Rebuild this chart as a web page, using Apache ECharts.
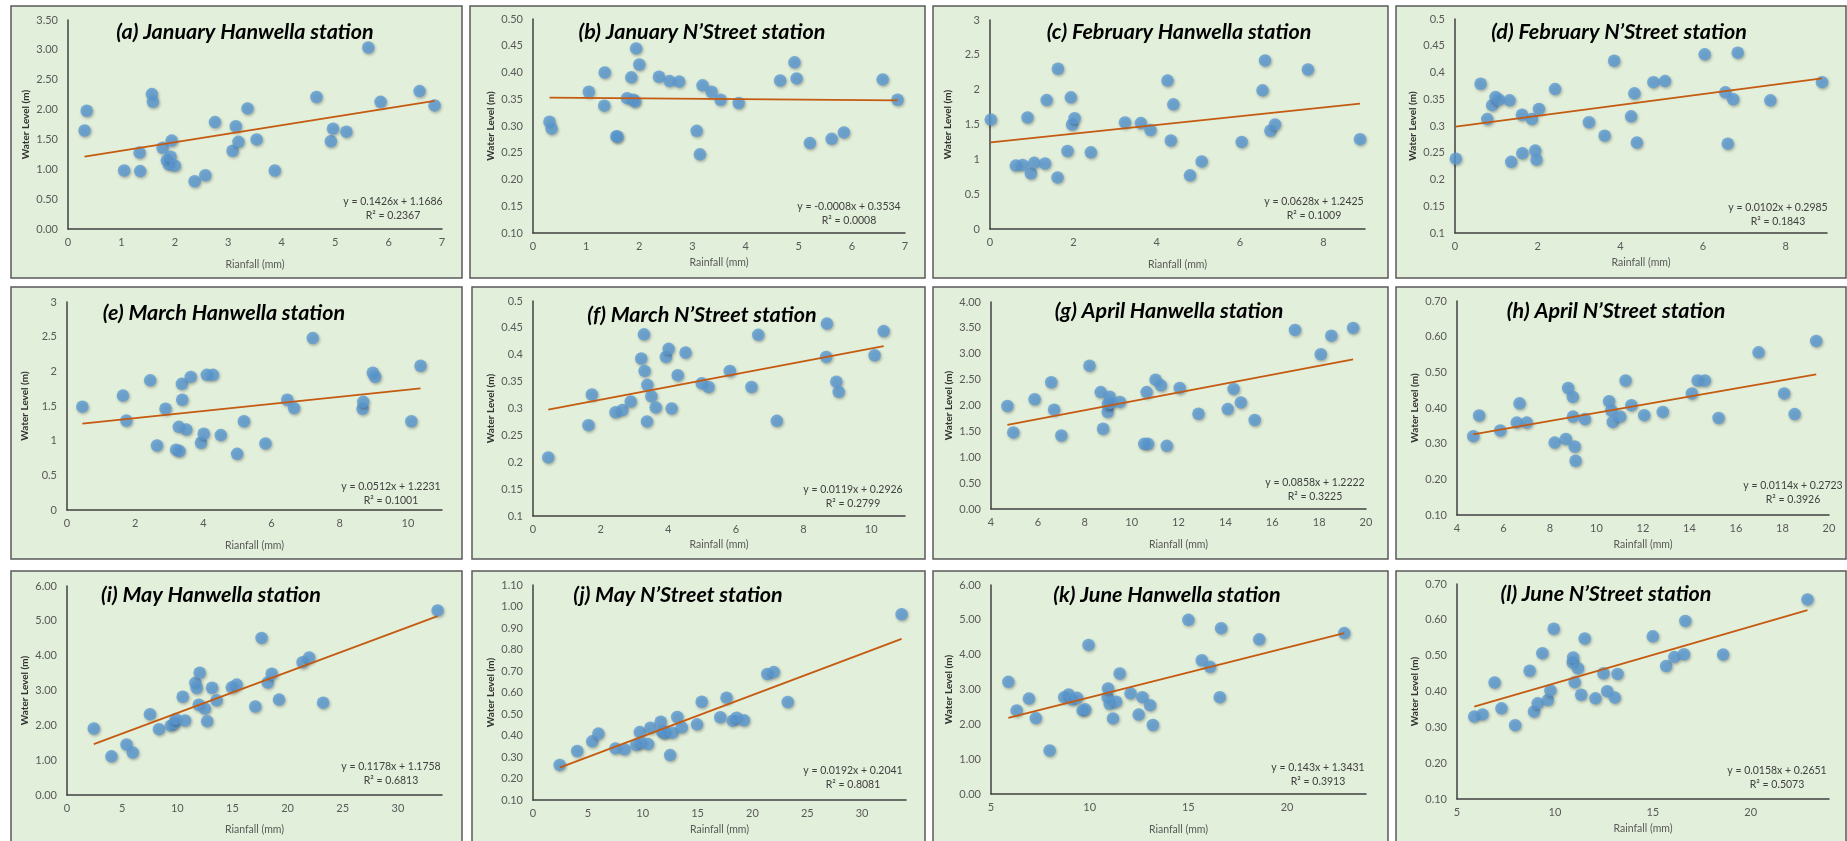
<!DOCTYPE html>
<html><head><meta charset="utf-8">
<script src="https://cdn.jsdelivr.net/npm/echarts@6/dist/echarts.min.js"></script>
<style>html,body{margin:0;padding:0;background:#fff}#c{width:1847px;height:841px}</style>
</head><body><div id="c"></div>
<script>
// ---------- DATA ----------
const janX = [0.31,0.35,1.05,1.34,1.35,1.57,1.59,1.77,1.85,1.89,1.92,1.94,2.00,2.37,2.57,2.75,3.08,3.14,3.19,3.36,3.53,3.87,4.65,4.92,4.96,5.21,5.62,5.85,6.58,6.86];
const janHanwella = [1.65,1.98,0.98,1.28,0.97,2.26,2.13,1.36,1.15,1.08,1.21,1.48,1.06,0.80,0.90,1.79,1.31,1.72,1.46,2.02,1.50,0.98,2.21,1.47,1.68,1.63,3.04,2.13,2.31,2.07];
const janNStreet = [0.308,0.295,0.364,0.338,0.400,0.281,0.280,0.352,0.391,0.349,0.346,0.445,0.415,0.392,0.384,0.383,0.291,0.247,0.376,0.364,0.349,0.343,0.385,0.419,0.389,0.268,0.276,0.288,0.387,0.349];

const febX = [0.02,0.62,0.78,0.90,0.98,1.06,1.32,1.36,1.62,1.63,1.86,1.94,1.97,2.03,2.42,3.24,3.62,3.85,4.26,4.34,4.40,4.80,5.08,6.04,6.54,6.60,6.73,6.84,7.63,8.88];
const febHanwella = [1.57,0.91,0.92,1.60,0.80,0.95,0.94,1.85,0.74,2.30,1.12,1.89,1.50,1.59,1.10,1.53,1.52,1.42,2.13,1.27,1.79,0.77,0.97,1.25,1.99,2.42,1.41,1.50,2.29,1.29];
const febNStreet = [0.239,0.379,0.313,0.339,0.354,0.349,0.348,0.233,0.321,0.249,0.313,0.254,0.237,0.332,0.369,0.307,0.282,0.422,0.318,0.361,0.269,0.382,0.384,0.434,0.363,0.267,0.350,0.437,0.348,0.382];

const marX = [0.45,1.64,1.74,2.44,2.64,2.89,3.20,3.28,3.30,3.37,3.38,3.50,3.63,3.93,4.01,4.10,4.28,4.51,4.99,5.19,5.82,6.46,6.66,7.21,8.67,8.69,8.97,9.04,10.10,10.37];
const marHanwella = [1.49,1.65,1.29,1.87,0.93,1.46,0.87,1.20,0.85,1.82,1.59,1.16,1.92,0.97,1.10,1.95,1.95,1.08,0.81,1.28,0.96,1.59,1.47,2.48,1.46,1.56,1.98,1.92,1.28,2.08];
const marNStreet = [0.209,0.269,0.326,0.293,0.297,0.313,0.393,0.438,0.370,0.276,0.344,0.323,0.302,0.396,0.411,0.300,0.362,0.404,0.347,0.340,0.370,0.340,0.437,0.277,0.396,0.458,0.350,0.331,0.399,0.444];

const aprX = [4.70,4.95,5.86,6.57,6.69,7.00,8.20,8.68,8.78,8.98,8.99,9.06,9.10,9.50,10.54,10.64,10.70,11.02,11.25,11.50,12.05,12.85,14.10,14.35,14.66,15.25,16.97,18.07,18.52,19.45];
const aprHanwella = [1.99,1.48,2.12,2.45,1.92,1.42,2.77,2.26,1.55,1.88,2.03,2.17,2.05,2.07,1.26,2.26,1.26,2.50,2.39,1.22,2.34,1.84,1.93,2.32,2.06,1.72,3.46,2.99,3.35,3.50];
const aprNStreet = [0.321,0.379,0.337,0.359,0.413,0.359,0.303,0.313,0.456,0.431,0.376,0.292,0.252,0.369,0.419,0.393,0.361,0.376,0.477,0.408,0.380,0.389,0.441,0.477,0.477,0.372,0.556,0.441,0.383,0.588];

const mayX = [2.43,4.03,5.40,5.96,7.52,8.34,9.41,9.73,9.85,10.49,10.70,11.64,11.76,11.95,12.03,12.50,12.71,13.15,13.56,14.95,15.38,17.07,17.64,18.20,18.56,19.22,21.36,21.95,23.22,33.60];
const mayHanwella = [1.91,1.11,1.45,1.22,2.32,1.89,1.99,2.06,2.18,2.82,2.14,3.22,3.07,2.59,3.51,2.48,2.12,3.08,2.72,3.09,3.17,2.54,4.51,3.23,3.48,2.74,3.81,3.95,2.65,5.30];
const mayNStreet = [0.263,0.328,0.373,0.409,0.340,0.336,0.356,0.416,0.367,0.360,0.436,0.464,0.418,0.420,0.412,0.309,0.413,0.486,0.438,0.452,0.557,0.485,0.576,0.469,0.483,0.471,0.686,0.695,0.556,0.964];

const junX = [5.88,6.30,6.92,7.27,7.97,8.71,8.93,9.12,9.36,9.64,9.77,9.94,10.91,10.93,11.01,11.18,11.34,11.52,12.07,12.48,12.67,13.06,13.20,15.00,15.68,16.10,16.59,16.66,18.59,22.90];
const junHanwella = [3.22,2.40,2.74,2.18,1.25,2.78,2.86,2.71,2.76,2.40,2.43,4.28,2.78,3.03,2.59,2.17,2.65,3.46,2.89,2.28,2.78,2.55,1.98,5.00,3.84,3.65,2.78,4.76,4.44,4.62];
const junNStreet = [0.330,0.336,0.425,0.353,0.306,0.458,0.344,0.367,0.507,0.376,0.403,0.575,0.481,0.495,0.426,0.465,0.391,0.548,0.381,0.451,0.401,0.383,0.449,0.554,0.471,0.496,0.504,0.597,0.503,0.657];

const titles = ['(a) January Hanwella station','(b) January N\u2019Street station','(c) February Hanwella station','(d) February N\u2019Street station',
  '(e) March Hanwella station','(f) March N\u2019Street station','(g) April Hanwella station','(h) April N\u2019Street station',
  '(i) May Hanwella station','(j) May N\u2019Street station','(k) June Hanwella station','(l) June N\u2019Street station'];
const xNames = ['Rianfall (mm)','Rainfall (mm)','Rianfall (mm)','Rainfall (mm)','Rianfall (mm)','Rainfall (mm)',
  'Rianfall (mm)','Rainfall (mm)','Rianfall (mm)','Rainfall (mm)','Rianfall (mm)','Rainfall (mm)'];
const yName = 'Water Level (m)';
const slopes = [0.1426,-0.0008,0.0628,0.0102,0.0512,0.0119,0.0858,0.0114,0.1178,0.0192,0.143,0.0158];
const intercepts = [1.1686,0.3534,1.2425,0.2985,1.2231,0.2926,1.2222,0.2723,1.1758,0.2041,1.3431,0.2651];
const rSquared = ['0.2367','0.0008','0.1009','0.1843','0.1001','0.2799','0.3225','0.3926','0.6813','0.8081','0.3913','0.5073'];
// x axis [min,max,interval], y axis [min,max,interval,decimals]
const xScales = [[0,7,1],[0,7,1],[0,9,2],[0,9,2],[0,11,2],[0,11,2],[4,20,2],[4,20,2],[0,34,5],[0,34,5],[5,24,5],[5,24,5]];
const yScales = [[0,3.5,0.5,2],[0.1,0.5,0.05,2],[0,3,0.5,-1],[0.1,0.5,0.05,-1],[0,3,0.5,-1],[0.1,0.5,0.05,-1],
  [0,4,0.5,2],[0.1,0.7,0.1,2],[0,6,1,2],[0.1,1.1,0.1,2],[0,6,1,2],[0.1,0.7,0.1,2]];

const panelData = [
  [janX,janHanwella],[janX,janNStreet],[febX,febHanwella],[febX,febNStreet],
  [marX,marHanwella],[marX,marNStreet],[aprX,aprHanwella],[aprX,aprNStreet],
  [mayX,mayHanwella],[mayX,mayNStreet],[junX,junHanwella],[junX,junNStreet]];

// ---------- LAYOUT ----------
const boxes = [[11,6,462,278],[470,6,925,278],[933,6,1388,278],[1396,6,1846,278],
  [11,287,462,559],[472,287,925,559],[933,287,1388,559],[1396,287,1846,559],
  [11,571,462,860],[472,571,925,860],[933,571,1388,860],[1396,571,1846,860]];
const grids = [[68,20,442,229],[533,19,905,233],[990,20,1365,229],[1455,19,1827,233],
  [67,302,442,510],[533,301,905,516],[991,302,1366,509],[1457,301,1829,515],
  [67,586,442,795],[533,585,906,800],[991,585,1366,794],[1457,584,1829,799]];
const titlePos = [[245,32],[702,32],[1179,32],[1619,32],[224,313],[702,315],[1169,311],[1616,311],[211,595],[678,595],[1167,595],[1606,594]];
const eqPos = [[393,202],[849,207],[1314,202],[1778,208],[391,487],[853,490],[1315,483],[1793,486],[391,767],[853,771],[1318,768],[1777,771]];
const xNameGaps = [30,24,30,24,30,23,30,24,29,24,30,24];

const FONT = 'Lato, "Open Sans", sans-serif';
const option = {animation:false, grid:[], xAxis:[], yAxis:[], series:[], graphic:[]};

boxes.forEach((b)=>{
  option.graphic.push({type:'rect', z:-10, shape:{x:b[0],y:b[1],width:b[2]-b[0],height:b[3]-b[1]},
    style:{fill:'#E2EFDA', stroke:'#595959', lineWidth:1.5}});
});

panelData.forEach((pd,i)=>{
  const [l,t,r,b] = grids[i];
  const xs = xScales[i], ys = yScales[i];
  option.grid.push({left:l, top:t, width:r-l, height:b-t, containLabel:false});
  option.xAxis.push({type:'value', gridIndex:i, min:xs[0], max:xs[1], interval:xs[2],
    name:xNames[i], nameLocation:'middle', nameGap:xNameGaps[i],
    nameTextStyle:{fontFamily:FONT, fontSize:10.5, color:'#595959', verticalAlign:'top'},
    axisLine:{onZero:false, lineStyle:{color:'#404040', width:1.5}},
    axisTick:{show:false}, splitLine:{show:false},
    axisLabel:{fontFamily:FONT, fontSize:11, color:'#595959', margin:8, showMaxLabel:(xs[1]-xs[0])%xs[2]===0}});
  option.yAxis.push({type:'value', gridIndex:i, min:ys[0], max:ys[1], interval:ys[2],
    name:yName, nameLocation:'middle', nameGap:37, nameRotate:90,
    nameTextStyle:{fontFamily:FONT, fontSize:10, fontWeight:'bold', color:'#333333'},
    axisLine:{show:true, onZero:false, lineStyle:{color:'#404040', width:1.5}},
    axisTick:{show:false}, splitLine:{show:false},
    axisLabel:{fontFamily:FONT, fontSize:11, color:'#595959', margin:10,
      formatter: ys[3] >= 0 ? (v)=>v.toFixed(ys[3]) : (v)=>String(+v.toFixed(4))}});
  const pts = pd[0].map((x,k)=>[x, pd[1][k]]);
  option.series.push({type:'scatter', xAxisIndex:i, yAxisIndex:i, data:pts, symbolSize:12.5, z:3,
    itemStyle:{color:'#5B9BD5', shadowBlur:3, shadowColor:'rgba(0,0,0,0.35)', shadowOffsetX:1, shadowOffsetY:1.5}});
  const xmin = Math.min(...pd[0]), xmax = Math.max(...pd[0]);
  option.series.push({type:'line', xAxisIndex:i, yAxisIndex:i, symbol:'none', z:4, silent:true,
    data:[[xmin, slopes[i]*xmin+intercepts[i]],[xmax, slopes[i]*xmax+intercepts[i]]],
    lineStyle:{color:'#C55A11', width:1.8}});
  option.graphic.push({type:'text', z:100, x:titlePos[i][0], y:titlePos[i][1],
    style:{text:titles[i], fontFamily:FONT, fontSize:21.5, fontWeight:'bold', fontStyle:'italic', fill:'#000',
      align:'center', verticalAlign:'middle'}});
  const sign = intercepts[i] >= 0 ? ' + ' : ' - ';
  option.graphic.push({type:'text', z:100, x:eqPos[i][0], y:eqPos[i][1]-7,
    style:{text:'y = '+slopes[i]+'x'+sign+Math.abs(intercepts[i])+'\nR\u00B2 = '+rSquared[i],
      fontFamily:FONT, fontSize:10.5, fill:'#404040', align:'center', verticalAlign:'top', lineHeight:14}});
});

const chart = echarts.init(document.getElementById('c'), null, {renderer:'canvas'});
chart.setOption(option);
</script>
</body></html>
